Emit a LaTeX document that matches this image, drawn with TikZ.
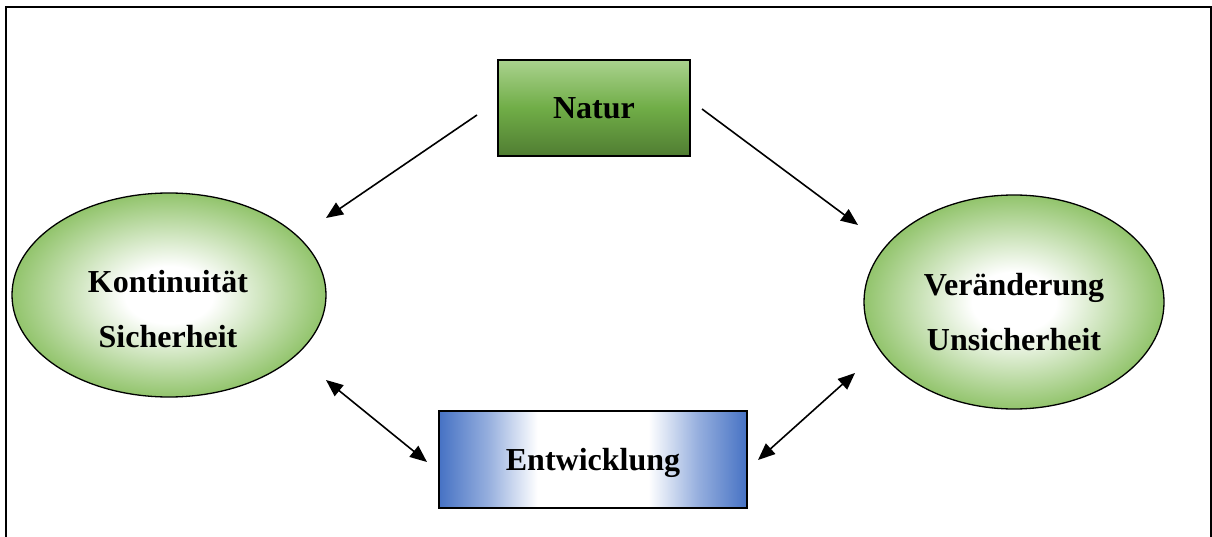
\documentclass[tikz,border=0pt]{standalone}
\usepackage{fontspec}
\setmainfont{Liberation Serif}
\usetikzlibrary{arrows.meta,shapes.geometric}

% colours
\definecolor{natlight}{RGB}{170,210,142}
\definecolor{natmid}{RGB}{112,173,71}
\definecolor{natdark}{RGB}{80,125,50}
\definecolor{ellgreen}{RGB}{146,196,108}
\definecolor{barblue}{RGB}{70,114,196}
\definecolor{barmid}{RGB}{150,175,222}

% shadings
\pgfdeclareverticalshading{naturshade}{100bp}{%
  color(0bp)=(natdark); color(25bp)=(natdark); color(50bp)=(natmid);
  color(75bp)=(natlight); color(100bp)=(natlight)}
\pgfdeclareradialshading{ellshade}{\pgfpoint{0bp}{0bp}}{%
  color(0bp)=(white); color(7bp)=(white); color(25bp)=(ellgreen);
  color(50bp)=(ellgreen)}
\pgfdeclarehorizontalshading{barshade}{100bp}{%
  color(0bp)=(barblue); color(25bp)=(barblue); color(33bp)=(barmid);
  color(41bp)=(white); color(59bp)=(white); color(67bp)=(barmid);
  color(75bp)=(barblue); color(100bp)=(barblue)}

\tikzset{
  txt/.style={font=\fontsize{32}{55}\selectfont\bfseries, text height=21pt, text depth=0pt},
  greenbox/.style={draw=black, line width=1.4pt, shading=naturshade, minimum width=192pt, minimum height=96pt, inner sep=0pt, txt},
  bluebox/.style={draw=black, line width=1.4pt, shading=barshade, minimum width=308pt, minimum height=97pt, inner sep=0pt, txt},
  ellnode/.style={draw=black, line width=1.3pt, shading=ellshade, ellipse, inner sep=0pt},
  elltext/.style={font=\fontsize{32}{55}\selectfont\bfseries, align=center, inner sep=0pt},
  tip/.style={Triangle[length=17pt,width=14pt]},
  arr/.style={line width=1.6pt, -{Triangle[length=17pt,width=14pt]}},
  darr/.style={line width=1.6pt, {Triangle[length=17pt,width=14pt]}-{Triangle[length=17pt,width=14pt]}},
  frame/.style={line width=2.2pt}
}

\begin{document}
\begin{tikzpicture}[x=1pt,y=-1pt]
  \useasboundingbox (0,0) rectangle (1212,537);

  % outer frame, open at the bottom
  \draw[frame] (6,545) -- (6,7) -- (1211,7) -- (1211,545);

  % boxes
  \node[greenbox] (natur) at (594,108) {Natur};
  \node[bluebox] (entw) at (593,459.5) {Entwicklung};

  % ellipses with their labels
  \node[ellnode, minimum width=314pt, minimum height=204pt] (kont) at (169,295) {};
  \node[elltext] (kontT) at (168,309.5) {Kontinuität\\Sicherheit};
  \node[ellnode, minimum width=300pt, minimum height=214pt] (ver) at (1014,302) {};
  \node[elltext] (verT) at (1014,312) {Veränderung\\Unsicherheit};

  % arrow end points
  \coordinate (n1) at (477,115);
  \coordinate (k1) at (326,218);
  \coordinate (n2) at (702,109);
  \coordinate (v1) at (858,225);
  \coordinate (k2) at (326,380);
  \coordinate (e1) at (427,462);
  \coordinate (v2) at (855,373);
  \coordinate (e2) at (758,460);

  % connectors
  \draw[arr] (n1) -- (k1);
  \draw[arr] (n2) -- (v1);
  \draw[darr] (k2) -- (e1);
  \draw[darr] (v2) -- (e2);
\end{tikzpicture}
\end{document}
